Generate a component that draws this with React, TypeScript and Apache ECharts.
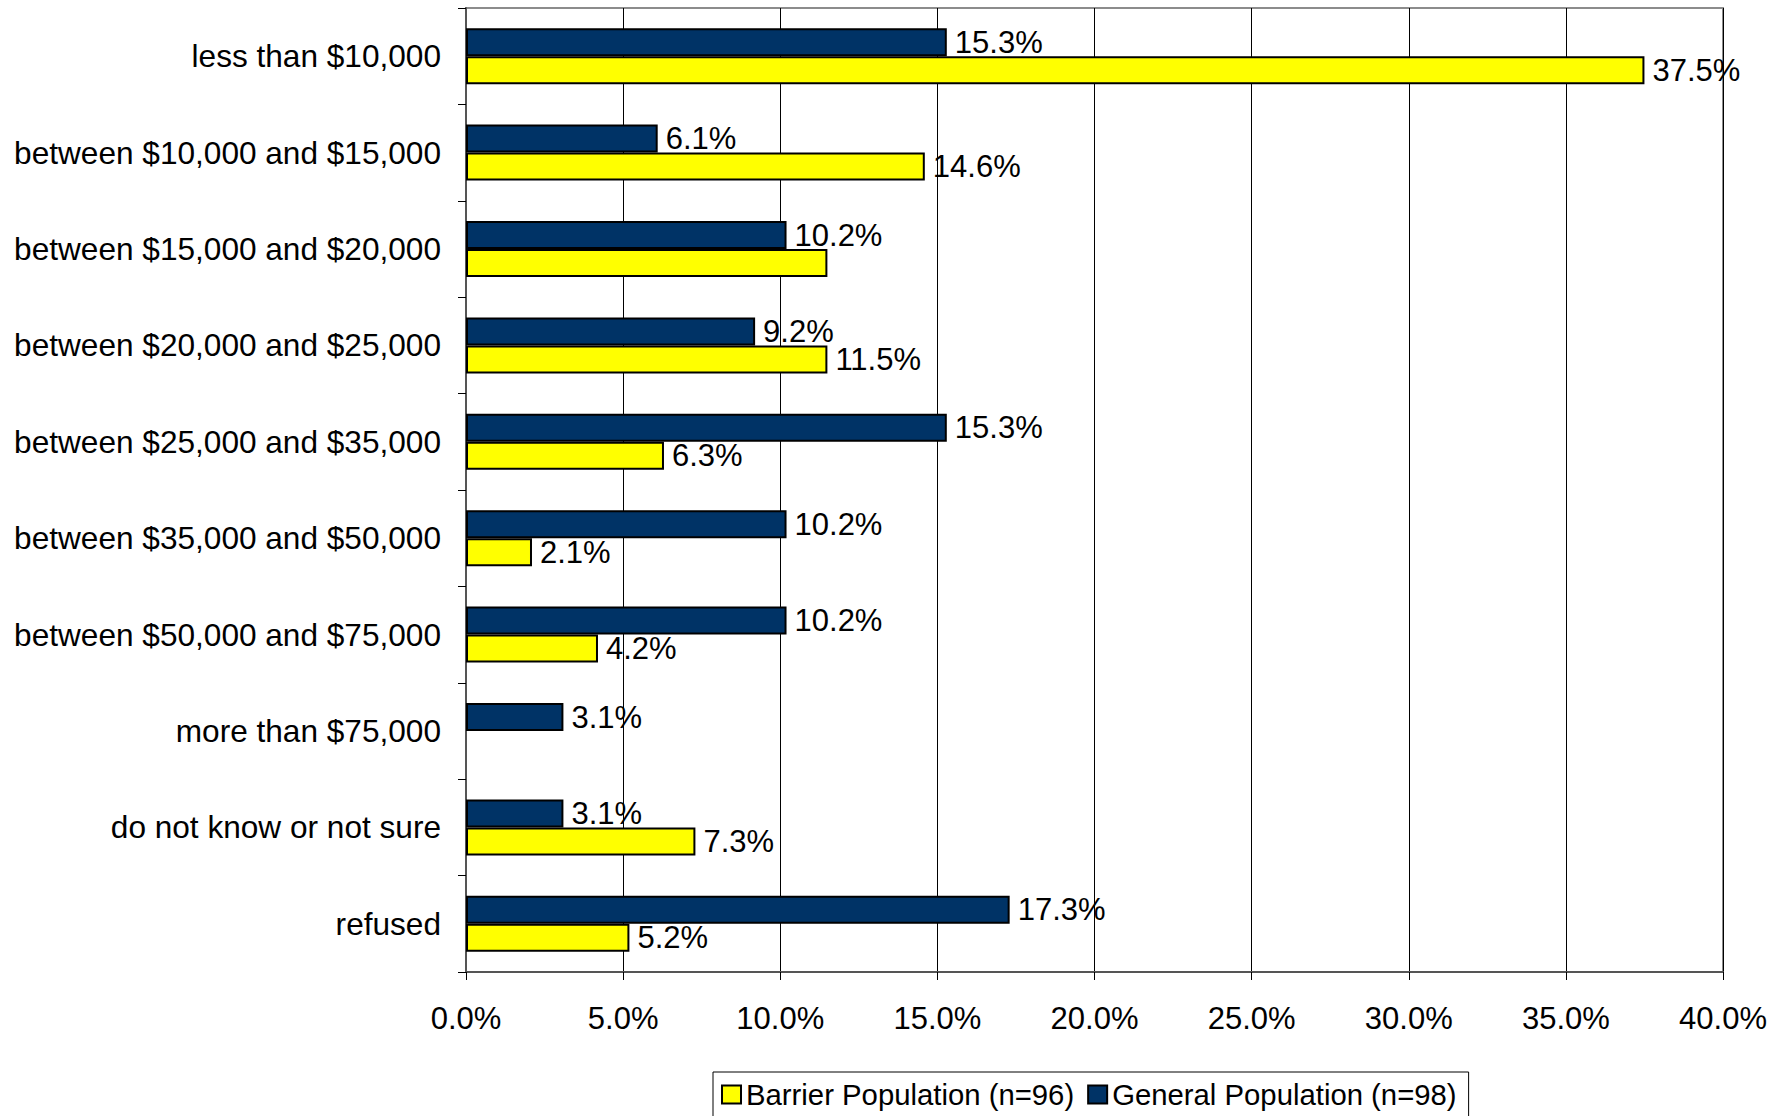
import React, { useEffect, useRef } from "react";
import * as echarts from "echarts";

const categories = [
  "less than $10,000",
  "between $10,000 and $15,000",
  "between $15,000 and $20,000",
  "between $20,000 and $25,000",
  "between $25,000 and $35,000",
  "between $35,000 and $50,000",
  "between $50,000 and $75,000",
  "more than $75,000",
  "do not know or not sure",
  "refused",
];
const generalValues = [15.3, 6.1, 10.2, 9.2, 15.3, 10.2, 10.2, 3.1, 3.1, 17.3];
const barrierValues = [37.5, 14.6, 11.5, 11.5, 6.3, 2.1, 4.2, 0, 7.3, 5.2];
// data labels that are not shown in the reference
const barrierHiddenLabels = [false, false, true, false, false, false, false, true, false, false];
const xTicks = [0, 5, 10, 15, 20, 25, 30, 35, 40];

const GENERAL = "General Population (n=98)";
const BARRIER = "Barrier Population (n=96)";
const FONT = "'Liberation Sans', Arial, sans-serif";

export default function App() {
  const ref = useRef<HTMLDivElement>(null);
  useEffect(() => {
    document.body.style.margin = "0";
    const chart = echarts.init(ref.current!, null, { renderer: "svg" });
    const labelStyle = {
      show: true,
      position: "right",
      distance: 8,
      fontSize: 31,
      fontFamily: FONT,
      color: "#000",
      formatter: (p: any) => p.value.toFixed(1) + "%",
    };
    chart.setOption({
      animation: false,
      backgroundColor: "#fff",
      textStyle: { fontFamily: FONT },
      grid: { left: 466, right: 60, top: 8, bottom: 144, show: true, borderColor: "#8c8c8c", borderWidth: 2 },
      legend: {
        data: [BARRIER, GENERAL],
        left: 713,
        top: 1072,
        padding: [8, 12, 8, 8],
        itemWidth: 19,
        itemHeight: 18,
        itemGap: 13,
        borderColor: "#000",
        borderWidth: 1,
        icon: "rect",
        textStyle: { fontSize: 29.3, fontFamily: FONT, color: "#000" },
      },
      xAxis: {
        type: "value",
        min: 0,
        max: 40,
        interval: 5,
        axisLine: { show: true, lineStyle: { color: "#555", width: 2 } },
        axisTick: { show: true, length: 8, lineStyle: { color: "#000" } },
        splitLine: { show: true, lineStyle: { color: "#000", width: 1 } },
        axisLabel: {
          fontSize: 31,
          fontFamily: FONT,
          color: "#000",
          margin: 31,
          formatter: (v: number) => (xTicks.includes(v) ? v.toFixed(1) + "%" : ""),
        },
      },
      yAxis: {
        type: "category",
        data: categories,
        inverse: true,
        axisLine: { show: true, lineStyle: { color: "#555", width: 2 } },
        axisTick: { show: true, length: 8, lineStyle: { color: "#000" } },
        axisLabel: { fontSize: 31.6, fontFamily: FONT, color: "#000", margin: 25 },
      },
      series: [
        {
          name: GENERAL,
          type: "bar",
          data: generalValues,
          barWidth: 28,
          barGap: "0%",
          itemStyle: { color: "#003366", borderColor: "#000", borderWidth: 2 },
          label: labelStyle,
        },
        {
          name: BARRIER,
          type: "bar",
          data: barrierValues.map((v, i) => ({
            value: v,
            label: { show: !barrierHiddenLabels[i] },
            itemStyle: v === 0 ? { borderWidth: 0 } : undefined,
          })),
          barWidth: 28,
          barGap: "0%",
          itemStyle: { color: "#FFFF00", borderColor: "#000", borderWidth: 2 },
          label: labelStyle,
        },
      ],
    });
    return () => chart.dispose();
  }, []);
  return <div ref={ref} style={{ width: 1783, height: 1116 }} />;
}
